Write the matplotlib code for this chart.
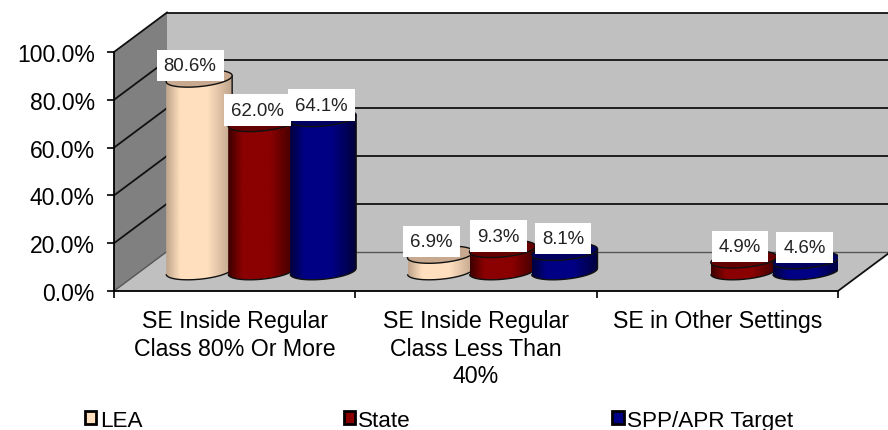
import numpy as np
import matplotlib
matplotlib.use("Agg")
import matplotlib.pyplot as plt
from matplotlib.colors import LinearSegmentedColormap
from matplotlib.patches import Patch, PathPatch, Polygon
from matplotlib.path import Path

plt.rcParams['font.family'] = ['Liberation Sans', 'DejaVu Sans']

categories = ["SE Inside Regular\nClass 80% Or More",
              "SE Inside Regular\nClass Less Than\n40%",
              "SE in Other Settings"]
series_names = ["LEA", "State", "SPP/APR Target"]
lea = [80.6, 6.9, None]
state = [62.0, 9.3, 4.9]
target = [64.1, 8.1, 4.6]
y_ticks = [0, 20, 40, 60, 80, 100]

W, H = 888, 431
X0, X1, Y0, Y1 = 114, 838, 292, 53
fig = plt.figure(figsize=(W / 100, H / 100), dpi=100)
ax = fig.add_axes([X0 / W, 1 - Y0 / H, (X1 - X0) / W, (Y0 - Y1) / H])
ax.set_xlim(0, 3)
ax.set_ylim(0, 100)
ax.patch.set_visible(False)

# pixel -> data units
ux = 3 / (X1 - X0)
uy = 100 / (Y0 - Y1)
dep_x, dep_y = 53 * ux, 39.5 * uy

# walls
left = [(0, 0), (dep_x, dep_y), (dep_x, 100 + dep_y), (0, 100)]
ax.add_patch(Polygon(left, fc="#808080", ec="none", clip_on=False, zorder=1))
ax.add_patch(Polygon([(dep_x, dep_y), (3.4, dep_y), (3.4, 100 + dep_y), (dep_x, 100 + dep_y)],
                     fc="#C0C0C0", ec="none", clip_on=False, zorder=1))
ax.add_patch(Polygon([(0, 0), (3, 0), (3 + dep_x, dep_y), (3.4, dep_y), (dep_x, dep_y)],
                     fc="#C0C0C0", ec="none", clip_on=False, zorder=1))
for t in y_ticks:
    c = "#555555" if t == 0 else "#111111"
    lw = 1.0 if t == 0 else 1.3
    ax.plot([0, dep_x], [t, t + dep_y], color=c, lw=lw, clip_on=False, zorder=2)
    ax.plot([dep_x, 3.4], [t + dep_y, t + dep_y], color=c, lw=lw, clip_on=False, zorder=2)
ax.plot([3, 3 + dep_x], [0, dep_y], color="#111111", lw=1.3, clip_on=False, zorder=2)

styles = [("#C0A58C", "#FFDFBE", "#C8A88E"),
          ("#3C0000", "#8B0000", "#640000"),
          ("#00003C", "#000085", "#000060")]
label_dx = [-9, -4, -1.5]
slot = 62 * ux
half_w = 33 * ux
t = np.linspace(0, 2 * np.pi, 73)


def ellipse(cx, cy):
    return (cx + half_w * np.cos(t),
            cy + (8 * np.sin(t) + 3 * np.cos(t)) * uy)


def cylinder(cx, v, cols, order):
    base = dep_y / 2
    low = t[36:73]
    bx = cx + half_w * np.cos(low)
    by = base + (8 * np.sin(low) + 3 * np.cos(low)) * uy
    tx, ty = cx + half_w, base + v + 3 * uy
    body_x = np.r_[bx, tx, cx - half_w]
    body_y = np.r_[by, ty, base + v - 3 * uy]
    body = PathPatch(Path(np.c_[body_x, body_y], closed=False), fc="none", ec="#111111",
                     lw=1.0, zorder=order + 0.2)
    cmap = LinearSegmentedColormap.from_list("c", [cols[0], cols[1], cols[1], cols[0]])
    g = np.interp(np.linspace(0, 1, 128), [0, 0.22, 0.62, 1], [0, 0.34, 0.66, 1])
    im = ax.imshow(g[None, :], extent=[cx - half_w, cx + half_w, base - 10 * uy, base + v + 5 * uy],
                   cmap=cmap, vmin=0, vmax=1, aspect="auto", zorder=order, interpolation="bilinear")
    clip = Polygon(np.c_[body_x, body_y], closed=True, transform=ax.transData)
    im.set_clip_path(clip)
    ax.add_patch(body)
    ex, ey = ellipse(cx, base + v)
    ax.add_patch(Polygon(np.c_[ex, ey], fc=cols[2], ec="#111111", lw=1.0, zorder=order + 0.3))


for g, vals in enumerate(zip(lea, state, target)):
    for s, v in enumerate(vals):
        if v is None:
            continue
        cx = g + 0.5 + (s - 1) * slot + dep_x / 2
        cylinder(cx, v, styles[s], 3 + s + g * 3)
        ax.text(cx + label_dx[s] * ux, v + dep_y / 2 + 13 * uy, f"{v:.1f}%", ha="center", va="center",
                fontsize=13.4, color="#222222", zorder=20,
                bbox=dict(boxstyle="square,pad=0.38", fc="white", ec="none"))

ax.set_xticks([0, 1, 2, 3])
ax.set_xticklabels([])
ax.set_xticks([0.5, 1.5, 2.5], minor=True)
ax.set_xticklabels(categories, minor=True, fontsize=16.7, linespacing=1.25)
ax.tick_params(axis="x", which="minor", length=0, pad=13)
ax.tick_params(axis="x", which="major", length=5, width=1.2)
ax.set_yticks(y_ticks)
ax.set_yticklabels([f"{v:.1f}%" for v in y_ticks], fontsize=16.5)
ax.tick_params(axis="y", length=5, width=1.2, pad=8.8)
ax.spines[["top", "right"]].set_visible(False)
ax.spines["left"].set_linewidth(1.3)
ax.spines["bottom"].set_linewidth(1.3)
ax.spines["left"].set_zorder(3)
ax.spines["bottom"].set_zorder(3)

handles = [Patch(fc=styles[i][1], ec="black", lw=2) for i in range(3)]
fig.legend(handles, series_names, ncol=3, loc="lower left", bbox_to_anchor=(0.092, -0.009),
           frameon=False, fontsize=16.2, handlelength=0.5, handleheight=0.5, handletextpad=0.15,
           columnspacing=8.95, borderpad=0.15, borderaxespad=0)

fig.savefig("out.png", dpi=100)
